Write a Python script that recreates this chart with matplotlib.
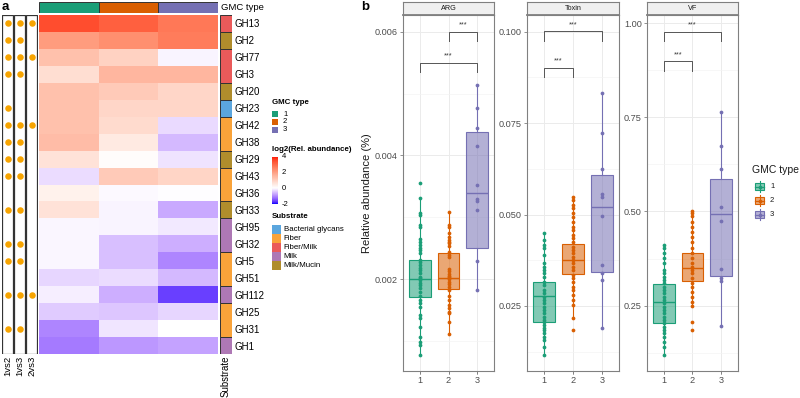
import numpy as np
import matplotlib
matplotlib.use("Agg")
import matplotlib.pyplot as plt
from matplotlib.patches import Rectangle
from matplotlib.colors import ListedColormap, TwoSlopeNorm

plt.rcParams['font.family'] = ['Liberation Sans', 'DejaVu Sans']

# ---------------- data: panel a ----------------
gh_families = ["GH13", "GH2", "GH77", "GH3", "GH20", "GH23", "GH42", "GH38", "GH29", "GH43",
               "GH36", "GH33", "GH95", "GH32", "GH5", "GH51", "GH112", "GH25", "GH31", "GH1"]
gmc_types = ["1", "2", "3"]
log2_gmc1 = [3.4, 2.05, 1.3, 0.7, 1.3, 1.3, 1.3, 1.4, 0.6, -0.3,
             0.3, 0.6, -0.08, -0.08, -0.08, -0.35, -0.15, -0.45, -1.05, -1.15]
log2_gmc2 = [3.1, 2.3, 0.95, 1.5, 1.1, 0.85, 0.75, 0.45, 0.08, 1.1,
             -0.05, -0.1, -0.1, -0.55, -0.55, -0.3, -0.7, -0.5, -0.22, -0.9]
log2_gmc3 = [2.7, 2.65, -0.1, 1.5, 0.85, 0.85, -0.32, -0.6, -0.25, 0.9,
             -0.03, -0.75, -0.2, -0.7, -1.05, -0.6, -1.65, -0.35, 0.02, -0.8]
substrate = ["Fiber/Milk", "Milk/Mucin", "Fiber/Milk", "Fiber/Milk", "Milk/Mucin", "Bacterial glycans",
             "Fiber", "Fiber", "Milk/Mucin", "Fiber", "Fiber", "Milk/Mucin", "Milk", "Milk",
             "Fiber", "Fiber", "Milk", "Fiber", "Fiber", "Milk"]
comparisons = ["1vs2", "1vs3", "2vs3"]
sig_1vs2 = [1, 1, 1, 1, 0, 1, 1, 1, 1, 1, 0, 1, 0, 1, 1, 0, 1, 0, 1, 0]
sig_1vs3 = [1, 1, 1, 1, 0, 0, 1, 1, 1, 1, 0, 1, 0, 1, 1, 0, 1, 0, 1, 0]
sig_2vs3 = [1, 0, 1, 0, 0, 0, 1, 0, 0, 0, 0, 0, 0, 0, 0, 0, 1, 0, 0, 0]
substrate_levels = ["Bacterial glycans", "Fiber", "Fiber/Milk", "Milk", "Milk/Mucin"]
substrate_colors = ["#5BA6DE", "#F9A33A", "#EA5A5A", "#AE78B5", "#B08D2C"]
gmc_colors = ["#1B9E77", "#D95F02", "#7570B3"]

# ---------------- data: panel b ----------------
panels = ["ARG", "Toxin", "VF"]
arg_g1 = [0.00355, 0.00332, 0.00307, 0.00303, 0.00287, 0.00284, 0.00265, 0.00260, 0.00255, 0.00250,
          0.00247, 0.00242, 0.00231, 0.00228, 0.00223, 0.00218, 0.00215, 0.00210, 0.00204, 0.00202,
          0.00198, 0.00194, 0.00190, 0.00185, 0.00180, 0.00173, 0.00166, 0.00161, 0.00155, 0.00142,
          0.00137, 0.00123, 0.00107, 0.00099, 0.00094, 0.00077]
arg_g2 = [0.00309, 0.00287, 0.00284, 0.00274, 0.00268, 0.00264, 0.00260, 0.00258, 0.00253, 0.00244,
          0.00239, 0.00236, 0.00216, 0.00213, 0.00209, 0.00205, 0.00203, 0.00200, 0.00196, 0.00192,
          0.00188, 0.00182, 0.00173, 0.00166, 0.00158, 0.00154, 0.00147, 0.00145, 0.00131, 0.00112]
arg_g3 = [0.00514, 0.00477, 0.00445, 0.00415, 0.00353, 0.00329, 0.00327, 0.00312, 0.00229, 0.00183]
tox_g1 = [0.0449, 0.0430, 0.0417, 0.0408, 0.0389, 0.0367, 0.0357, 0.0348, 0.0339, 0.0330,
          0.0316, 0.0307, 0.0294, 0.0285, 0.0275, 0.0266, 0.0257, 0.0248, 0.0239, 0.0230,
          0.0221, 0.0212, 0.0207, 0.0198, 0.0189, 0.0184, 0.0175, 0.0166, 0.0157, 0.0138, 0.0116]
tox_g2 = [0.0549, 0.0540, 0.0526, 0.0517, 0.0503, 0.0494, 0.0480, 0.0467, 0.0457, 0.0444,
          0.0435, 0.0426, 0.0412, 0.0403, 0.0394, 0.0385, 0.0376, 0.0367, 0.0357, 0.0348,
          0.0334, 0.0326, 0.0316, 0.0303, 0.0294, 0.0280, 0.0266, 0.0252, 0.0216, 0.0184]
tox_g3 = [0.0832, 0.0724, 0.0624, 0.0555, 0.0549, 0.0496, 0.0362, 0.0339, 0.0321, 0.0190]
vf_g1 = [0.411, 0.402, 0.389, 0.376, 0.362, 0.345, 0.336, 0.327, 0.318, 0.309,
         0.300, 0.291, 0.283, 0.274, 0.265, 0.256, 0.247, 0.238, 0.229, 0.220,
         0.212, 0.203, 0.194, 0.185, 0.176, 0.167, 0.154, 0.141, 0.119]
vf_g2 = [0.502, 0.495, 0.488, 0.473, 0.460, 0.446, 0.433, 0.420, 0.402, 0.389,
         0.376, 0.362, 0.353, 0.345, 0.336, 0.322, 0.309, 0.300, 0.287, 0.274,
         0.260, 0.249, 0.207, 0.185]
vf_g3 = [0.765, 0.675, 0.612, 0.513, 0.476, 0.348, 0.322, 0.316, 0.196]

# box statistics: (whisker low, Q1, median, Q3, whisker high)
arg_box = [(0.00077, 0.00171, 0.00200, 0.00231, 0.00332),
           (0.00112, 0.00184, 0.00202, 0.00243, 0.00309),
           (0.00183, 0.00250, 0.00340, 0.00438, 0.00514)]
tox_box = [(0.0116, 0.0205, 0.0277, 0.0316, 0.0449),
           (0.0216, 0.0336, 0.0376, 0.0419, 0.0549),
           (0.0190, 0.0344, 0.0521, 0.0608, 0.0832)]
vf_box = [(0.119, 0.203, 0.260, 0.3065, 0.411),
          (0.249, 0.315, 0.349, 0.389, 0.502),
          (0.196, 0.329, 0.493, 0.586, 0.765)]
# significance brackets: (group a, group b, bracket height, label)
arg_sig = [(2, 3, 0.00600, "***"), (1, 3, 0.00550, "***")]
tox_sig = [(1, 3, 0.1002, "***"), (1, 2, 0.0902, "***")]
vf_sig = [(1, 3, 0.978, "***"), (1, 2, 0.900, "***")]
arg_ticks = [0.002, 0.004, 0.006]
tox_ticks = [0.025, 0.050, 0.075, 0.100]
vf_ticks = [0.25, 0.50, 0.75, 1.00]

# ---------------- helpers ----------------
W, H = 800, 398
def rect(x0, y0, x1, y1):
    return [x0 / W, 1 - y1 / H, (x1 - x0) / W, (y1 - y0) / H]

M = np.array([[0.4124564, 0.3575761, 0.1804375],
              [0.2126729, 0.7151522, 0.0721750],
              [0.0193339, 0.1191920, 0.9503041]])
WP = np.array([0.95047, 1.0, 1.08883])
def rgb2lab(rgb):
    rgb = np.asarray(rgb, float)
    lin = np.where(rgb <= 0.04045, rgb / 12.92, ((rgb + 0.055) / 1.055) ** 2.4)
    xyz = M @ lin / WP
    d = 6 / 29
    f = np.where(xyz > d ** 3, np.cbrt(xyz), xyz / (3 * d * d) + 4 / 29)
    return np.array([116 * f[1] - 16, 500 * (f[0] - f[1]), 200 * (f[1] - f[2])])
def lab2rgb(lab):
    L, a, b = lab
    d = 6 / 29
    fy = (L + 16) / 116
    fs = np.array([fy + a / 500, fy, fy - b / 200])
    xyz = np.where(fs > d, fs ** 3, 3 * d * d * (fs - 4 / 29)) * WP
    lin = np.clip(np.linalg.solve(M, xyz), 0, 1)
    rgb = np.where(lin <= 0.0031308, 12.92 * lin, 1.055 * lin ** (1 / 2.4) - 0.055)
    return np.clip(rgb, 0, 1)

blue_l, white_l, red_l = rgb2lab([0, 0, 1]), rgb2lab([1, 1, 1]), rgb2lab([1, 0, 0])
cols = [lab2rgb(blue_l * (1 - t) + white_l * t) for t in np.linspace(0, 1, 128)]
cols += [lab2rgb(white_l * (1 - t) + red_l * t) for t in np.linspace(0, 1, 128)]
cmap = ListedColormap(cols)
norm = TwoSlopeNorm(vmin=-2, vcenter=0, vmax=4)

fig = plt.figure(figsize=(8, 3.98), dpi=100)
ov = fig.add_axes([0, 0, 1, 1])
ov.set_xlim(0, W); ov.set_ylim(H, 0); ov.axis('off')

n = len(gh_families)
# --- heatmap ---
vals = np.column_stack([log2_gmc1, log2_gmc2, log2_gmc3])
ax_h = fig.add_axes(rect(39, 15, 218, 354))
ax_h.pcolormesh(np.arange(4), np.arange(n + 1), vals, cmap=cmap, norm=norm)
ax_h.set_xlim(0, 3); ax_h.set_ylim(n, 0); ax_h.axis('off')

# --- GMC annotation bar ---
ax_g = fig.add_axes(rect(39, 2, 218, 13))
for i, c in enumerate(gmc_colors):
    ax_g.add_patch(Rectangle((i, 0), 1, 1, fc=c, ec='#333333', lw=0.7))
ax_g.set_xlim(0, 3); ax_g.set_ylim(0, 1); ax_g.axis('off')
ov.text(221, 7.5, "GMC type", fontsize=6.8, va='center', ha='left')

# --- substrate column ---
ax_s = fig.add_axes(rect(220, 15, 232, 354))
start = 0
for i in range(1, n + 1):
    if i == n or substrate[i] != substrate[start]:
        c = substrate_colors[substrate_levels.index(substrate[start])]
        ax_s.add_patch(Rectangle((0, start), 1, i - start, fc=c, ec='#333333', lw=0.7))
        start = i
ax_s.set_xlim(0, 1); ax_s.set_ylim(n, 0)
for sp in ax_s.spines.values():
    sp.set_visible(False)
ax_s.yaxis.tick_right()
ax_s.set_yticks(np.arange(n) + 0.5)
ax_s.set_yticklabels(gh_families, fontsize=7)
ax_s.set_xticks([0.5]); ax_s.set_xticklabels(["Substrate"], rotation=90, fontsize=6.9)
ax_s.tick_params(length=0, pad=1.5)

# --- significance dots ---
ax_d = fig.add_axes(rect(1.5, 15, 37.5, 354))
sig = [sig_1vs2, sig_1vs3, sig_2vs3]
for j in range(3):
    ax_d.add_patch(Rectangle((j + 0.03, 0), 0.94, n, fc='white', ec='#333333', lw=0.9))
    rows = [i + 0.5 for i in range(n) if sig[j][i]]
    ax_d.scatter([j + 0.5] * len(rows), rows, s=22, color='#F7A400', zorder=3, linewidths=0)
ax_d.set_xlim(0, 3); ax_d.set_ylim(n, 0)
for sp in ax_d.spines.values():
    sp.set_visible(False)
ax_d.set_yticks([])
ax_d.set_xticks(np.arange(3) + 0.5)
ax_d.set_xticklabels(comparisons, rotation=90, fontsize=6.8)
ax_d.tick_params(length=0, pad=1.5)

# --- panel a legends ---
ov.text(272, 103, "GMC type", fontsize=5.7, fontweight='bold', va='center')
for i, (lab, c) in enumerate(zip(gmc_types, gmc_colors)):
    yc = 114 + i * 7.8
    ov.add_patch(Rectangle((272, yc - 3), 5.8, 6, fc=c, ec='none'))
    ov.text(283, yc, lab, fontsize=5.5, va='center')
ov.text(272, 149.7, "log2(Rel. abundance)", fontsize=5.7, fontweight='bold', va='center')
ax_cb = fig.add_axes(rect(271.7, 157, 277.5, 204.5))
grad = np.linspace(-2, 4, 200).reshape(-1, 1)
ax_cb.imshow(grad, cmap=cmap, norm=norm, aspect='auto', origin='lower', extent=[0, 1, -2, 4])
ax_cb.axis('off')
for v in [4, 2, 0, -2]:
    ov.text(281.5, 157 + (4 - v) / 6 * 47.5, str(v), fontsize=5.5, va='center')
ov.text(272, 216.5, "Substrate", fontsize=5.7, fontweight='bold', va='center')
for i, (lab, c) in enumerate(zip(substrate_levels, substrate_colors)):
    yc = 229.3 + i * 9
    ov.add_patch(Rectangle((272.3, yc - 4.5), 8.5, 9, fc=c, ec='none'))
    ov.text(283.5, yc, lab, fontsize=5.7, va='center')

ov.text(5, 7, "a", fontsize=9.5, fontweight='bold', va='center', ha='center')
ov.text(365, 7, "b", fontsize=9.5, fontweight='bold', va='center', ha='center')

# --- panel b ---
xranges = [(403, 494), (527, 619), (647, 738)]
ylims = [(0.000516, 0.00627), (0.0072, 0.10457), (0.0762, 1.022)]
groups = [[arg_g1, arg_g2, arg_g3], [tox_g1, tox_g2, tox_g3], [vf_g1, vf_g2, vf_g3]]
boxes = [arg_box, tox_box, vf_box]
sigs = [arg_sig, tox_sig, vf_sig]
ticks = [arg_ticks, tox_ticks, vf_ticks]
fmts = ["{:.3f}", "{:.3f}", "{:.2f}"]
border = '#808080'
for k, name in enumerate(panels):
    x0, x1 = xranges[k]
    ax = fig.add_axes(rect(x0, 15, x1, 371))
    st = fig.add_axes(rect(x0, 2, x1, 15))
    st.set_facecolor('#F0F0F0')
    st.set_xticks([]); st.set_yticks([])
    for sp in st.spines.values():
        sp.set_color(border); sp.set_linewidth(0.8)
    st.spines['bottom'].set_linewidth(1.3)
    st.text(0.5, 0.5, name, fontsize=5.2, ha='center', va='center', color='#1A1A1A',
            transform=st.transAxes)

    lo, hi = ylims[k]
    ax.set_xlim(0.42, 3.58); ax.set_ylim(lo, hi)
    tk = ticks[k]
    step = tk[1] - tk[0]
    minors = [t - step / 2 for t in tk] + [tk[-1] + step / 2]
    ax.set_yticks(tk)
    ax.set_yticklabels([fmts[k].format(t) for t in tk])
    ax.set_yticks([m for m in minors if lo < m < hi], minor=True)
    ax.set_xticks([1, 2, 3]); ax.set_xticklabels(gmc_types)
    ax.grid(True, which='major', color='#EBEBEB', lw=0.7)
    ax.grid(True, which='minor', axis='y', color='#F3F3F3', lw=0.45)
    ax.set_axisbelow(True)
    ax.tick_params(axis='both', which='major', labelsize=6.6, colors='#4D4D4D', length=2.2,
                   width=0.6, pad=1.5)
    ax.tick_params(axis='y', which='minor', length=0)
    ax.tick_params(axis='both', which='major', color=border)
    for sp in ax.spines.values():
        sp.set_color(border); sp.set_linewidth(0.8)

    stats = [dict(whislo=b[0], q1=b[1], med=b[2], q3=b[3], whishi=b[4]) for b in boxes[k]]
    art = ax.bxp(stats, positions=[1, 2, 3], widths=0.75, patch_artist=True,
                 showfliers=False, showcaps=False)
    for i, c in enumerate(gmc_colors):
        art['boxes'][i].set_facecolor(matplotlib.colors.to_rgba(c, 0.55))
        art['boxes'][i].set_edgecolor(c); art['boxes'][i].set_linewidth(0.8)
        art['medians'][i].set_color(c); art['medians'][i].set_linewidth(1.0)
        for w in art['whiskers'][2 * i:2 * i + 2]:
            w.set_color(c); w.set_linewidth(0.8)
    for i, (g, c) in enumerate(zip(groups[k], gmc_colors)):
        ax.plot([i + 1] * len(g), g, 'o', ms=2.7, color=c, mec=c, mew=0, zorder=4)

    span = hi - lo
    for (a, b, h, lab) in sigs[k]:
        tip = h - 0.027 * span
        ax.plot([a, a, b, b], [tip, h, h, tip], color='#555555', lw=0.7, zorder=5)
        ax.text((a + b) / 2, h + 0.008 * span, lab, fontsize=5.2, ha='center', va='bottom',
                color='#333333')

ov.text(367, 193, "Relative abundance (%)", fontsize=8, rotation=90, ha='center', va='center',
        color='#1A1A1A')

# right legend
ov.text(752, 170, "GMC type", fontsize=7.5, va='center', color='#1A1A1A')
for i, (lab, c) in enumerate(zip(gmc_types, gmc_colors)):
    yc = 186.7 + i * 14
    ov.plot([759.5, 759.5], [yc - 5.5, yc + 5.5], color=c, lw=0.8)
    ov.add_patch(Rectangle((755, yc - 3.5), 9, 7, fc=matplotlib.colors.to_rgba(c, 0.55),
                           ec=c, lw=0.8))
    ov.plot([755, 764], [yc, yc], color=c, lw=0.9)
    ov.plot([759.5], [yc], 'o', ms=2.7, color=c, mew=0)
    ov.text(770, yc, lab, fontsize=5.5, va='center', color='#1A1A1A')

fig.savefig("out.png", dpi=100)
